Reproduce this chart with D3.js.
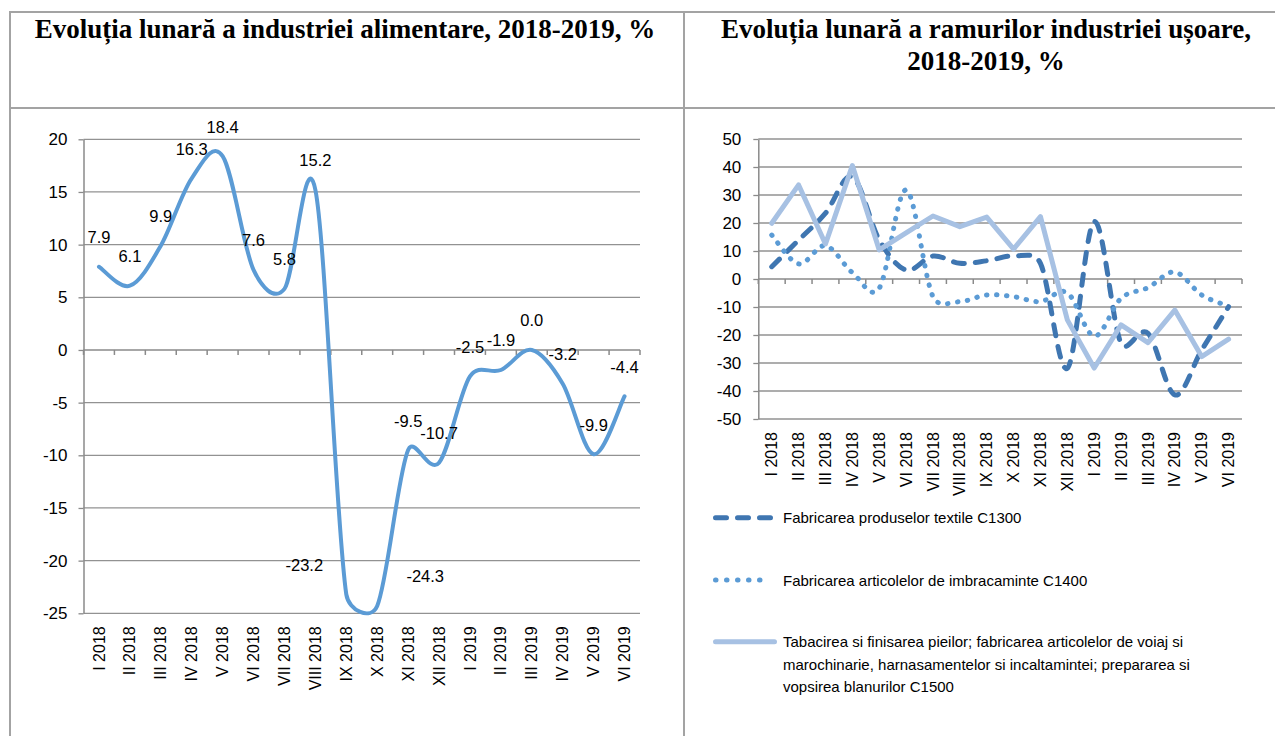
<!DOCTYPE html>
<html>
<head>
<meta charset="utf-8">
<script src="https://cdn.jsdelivr.net/npm/d3@7"></script>
<style>
body { margin: 0; background: #fff; }
text { font-family: "Liberation Sans", Arial, sans-serif; fill: #000; }
.title { font-family: "Liberation Serif", "Times New Roman", serif; font-weight: bold; font-size: 27px; }
</style>
</head>
<body>
<div id="chart-area"></div>
<script>
//Data
var months = ["I 2018", "II 2018", "III 2018", "IV 2018", "V 2018", "VI 2018", "VII 2018", "VIII 2018",
    "IX 2018", "X 2018", "XI 2018", "XII 2018", "I 2019", "II 2019", "III 2019", "IV 2019", "V 2019", "VI 2019"];
var alimentare = [7.9, 6.1, 9.9, 16.3, 18.4, 7.6, 5.8, 15.2, -23.2, -24.3, -9.5, -10.7, -2.5, -1.9, 0.0, -3.2, -9.9, -4.4];
var textile = [4.4, 13.9, 23.5, 36.5, 14, 3.2, 8.2, 5.6, 6.5, 8.2, 5.6, -31.9, 20.5, -23, -19.4, -41.4, -25.4, -9.9];
var imbracaminte = [15.7, 5.4, 11.9, 2.3, -3.3, 31.8, -6.3, -8.1, -5.7, -6.3, -8.1, -4.9, -20.4, -6.9, -3.1, 2.5, -5.7, -9.7];
var pielarie = [19.9, 33.6, 12.5, 40.5, 10.4, 16.5, 22.5, 18.7, 22.1, 10.7, 22.3, -14.6, -31.8, -16.4, -22.7, -11.1, -27.7, -21.5];
var seriesNames = [
    ["Fabricarea produselor textile C1300"],
    ["Fabricarea articolelor de imbracaminte C1400"],
    ["Tabacirea si finisarea pieilor; fabricarea articolelor de voiaj si",
     "marochinarie, harnasamentelor si incaltamintei; prepararea si",
     "vopsirea blanurilor C1500"]
];
var leftTicks = [20, 15, 10, 5, 0, -5, -10, -15, -20, -25];
var rightTicks = [50, 40, 30, 20, 10, 0, -10, -20, -30, -40, -50];
var titleLeft = ["Evoluția lunară a industriei alimentare, 2018-2019, %"];
var titleRight = ["Evoluția lunară a ramurilor industriei ușoare,", "2018-2019, %"];

// manual horizontal nudges of the labels that would sit on the line
var labelShift = [0, 0, 0, 0, 0, 0, 0, 0, -42, 48, 0, 0, 0, 0, 0, 0, 0, 0];

var svg = d3.select("#chart-area").append("svg")
    .attr("width", 1275)
    .attr("height", 736);

//Table borders
var border = "#a3a3a3";
[[10, 12, 1275, 12], [10, 108, 1275, 108], [10, 11, 10, 736], [684, 11, 684, 736]].forEach(function(l){
    svg.append("line")
        .attr("x1", l[0]).attr("y1", l[1]).attr("x2", l[2]).attr("y2", l[3])
        .attr("stroke", border).attr("stroke-width", 2);
});

//Titles
titleLeft.forEach(function(t, i){
    svg.append("text").attr("class", "title")
        .attr("x", 345).attr("y", 38 + i * 32)
        .attr("text-anchor", "middle").text(t);
});
titleRight.forEach(function(t, i){
    svg.append("text").attr("class", "title")
        .attr("x", 986).attr("y", 38 + i * 32)
        .attr("text-anchor", "middle").text(t);
});

// Excel-like smoothing: catmull-rom arms, clipped on short segments
function arm(a, b, c, dir) {
    var tx = (c[0] - a[0]) / 6, ty = (c[1] - a[1]) / 6;
    var len = Math.hypot(tx, ty);
    var side = dir > 0 ? Math.hypot(c[0] - b[0], c[1] - b[1]) : Math.hypot(b[0] - a[0], b[1] - a[1]);
    var k = len > 0 ? Math.min(1, 0.5 * side / len) : 0;
    return [b[0] + dir * tx * k, b[1] + dir * ty * k];
}
function smoothPath(pts) {
    var p = d3.path();
    p.moveTo(pts[0][0], pts[0][1]);
    for (var i = 0; i < pts.length - 1; i++) {
        var p0 = pts[i - 1] || pts[i], p1 = pts[i], p2 = pts[i + 1], p3 = pts[i + 2] || pts[i + 1];
        var c1 = arm(p0, p1, p2, 1), c2 = arm(p1, p2, p3, -1);
        p.bezierCurveTo(c1[0], c1[1], c2[0], c2[1], p2[0], p2[1]);
    }
    return p.toString();
}

//Panel frame: grid, axes, category labels
function drawFrame(g, x, y, ticks, padding) {
    var left = x.range()[0], right = x.range()[1];
    var top = y.range()[1], bottom = y.range()[0];

    g.selectAll(".grid").data(ticks.filter(function(d){ return d !== 0; }))
        .enter().append("line")
        .attr("x1", left).attr("x2", right)
        .attr("y1", function(d){ return y(d); }).attr("y2", function(d){ return y(d); })
        .attr("stroke", "#929292").attr("stroke-width", 1.3);

    var yAxisCall = d3.axisLeft(y).tickValues(ticks).tickSize(5).tickSizeOuter(0).tickPadding(padding)
        .tickFormat(function(d){ return String(d); });
    var yAxis = g.append("g")
        .attr("transform", "translate(" + left + ",0)")
        .call(yAxisCall);
    yAxis.select(".domain").attr("stroke", "#8a8a8a").attr("stroke-width", 1.5);
    yAxis.selectAll(".tick line").attr("stroke", "#8a8a8a").attr("stroke-width", 1.3);
    yAxis.selectAll(".tick text")
        .attr("font-size", "17px").attr("font-family", "Liberation Sans, Arial, sans-serif").attr("fill", "#000");

    // zero line with category ticks
    g.append("line")
        .attr("x1", left).attr("x2", right)
        .attr("y1", y(0)).attr("y2", y(0))
        .attr("stroke", "#8a8a8a").attr("stroke-width", 1.6);
    g.selectAll(".xtick").data(d3.range(x.domain().length + 1))
        .enter().append("line")
        .attr("x1", function(i){ return left + i * x.step(); })
        .attr("x2", function(i){ return left + i * x.step(); })
        .attr("y1", y(0)).attr("y2", y(0) + 5)
        .attr("stroke", "#8a8a8a").attr("stroke-width", 1.5);

    g.selectAll(".xlabel").data(x.domain())
        .enter().append("text")
        .attr("transform", function(d){
            return "translate(" + (x(d) + x.bandwidth() / 2) + "," + (bottom + 13) + ") rotate(-90)";
        })
        .attr("dy", "0.35em")
        .attr("text-anchor", "end")
        .attr("font-size", "16px")
        .text(function(d){ return d; });
}

//Left chart
var xL = d3.scaleBand().domain(months).range([83.5, 640]).padding(0);
var yL = d3.scaleLinear().domain([-25, 20]).range([613.3, 139.3]);
var gL = svg.append("g");
drawFrame(gL, xL, yL, leftTicks, 11);

var ptsL = alimentare.map(function(v, i){ return [xL(months[i]) + xL.bandwidth() / 2, yL(v)]; });
gL.append("path")
    .attr("d", smoothPath(ptsL))
    .attr("fill", "none")
    .attr("stroke", "#5b9bd5")
    .attr("stroke-width", 4)
    .attr("stroke-linecap", "round")
    .attr("stroke-linejoin", "round");

gL.selectAll(".vlabel").data(alimentare)
    .enter().append("text")
    .attr("x", function(d, i){ return xL(months[i]) + xL.bandwidth() / 2 + labelShift[i]; })
    .attr("y", function(d){ return yL(d) - 23.5; })
    .attr("text-anchor", "middle")
    .attr("font-size", "16.5px")
    .text(function(d){ return d.toFixed(1); });

//Right chart
var xR = d3.scaleBand().domain(months).range([758.3, 1242]).padding(0);
var yR = d3.scaleLinear().domain([-50, 50]).range([419, 139]);
var gR = svg.append("g");
drawFrame(gR, xR, yR, rightTicks, 12);

var styles = [
    { data: textile, color: "#3f76b1", width: 5, dash: "11,11", smooth: true },
    { data: imbracaminte, color: "#5b9bd5", width: 5, dash: "0.5,9.5", smooth: true },
    { data: pielarie, color: "#a7c1e3", width: 5, dash: null, smooth: false }
];

var straight = d3.line().x(function(d){ return d[0]; }).y(function(d){ return d[1]; });

styles.forEach(function(s){
    var pts = s.data.map(function(v, i){ return [xR(months[i]) + xR.bandwidth() / 2, yR(v)]; });
    gR.append("path")
        .attr("d", s.smooth ? smoothPath(pts) : straight(pts))
        .attr("fill", "none")
        .attr("stroke", s.color)
        .attr("stroke-width", s.width)
        .attr("stroke-dasharray", s.dash)
        .attr("stroke-linecap", "round")
        .attr("stroke-linejoin", "round");
});

//Legend
var legendY = [517.7, 580, 641.7];
var legendEnd = [770.5, 770.5, 774.5];
var legendDash = ["11,11", "0.5,10.5", null];
styles.forEach(function(s, i){
    svg.append("line")
        .attr("x1", 715.5).attr("x2", legendEnd[i])
        .attr("y1", legendY[i]).attr("y2", legendY[i])
        .attr("stroke", s.color)
        .attr("stroke-width", s.width)
        .attr("stroke-dasharray", legendDash[i])
        .attr("stroke-linecap", "round");
    seriesNames[i].forEach(function(line, j){
        svg.append("text")
            .attr("x", 783)
            .attr("y", legendY[i] + 5.5 + j * 22.5)
            .attr("font-size", "15px")
            .text(line);
    });
});
</script>
</body>
</html>
